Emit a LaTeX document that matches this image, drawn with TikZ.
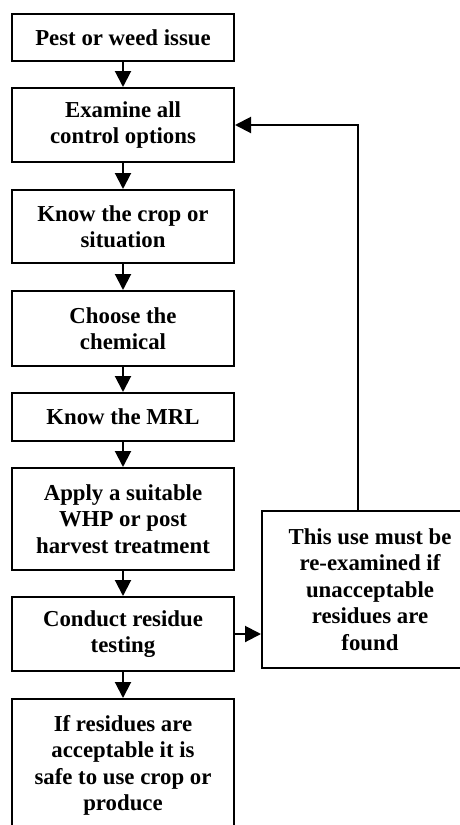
\documentclass[tikz,border=0pt]{standalone}
\usepackage{fontspec}
\setmainfont{Liberation Serif}
\usetikzlibrary{arrows.meta}

\tikzset{
  stage/.style={draw, line width=2pt, align=center, minimum width=222pt, inner sep=0pt,
    font=\fontsize{22.8}{26.5}\selectfont\bfseries},
  flow/.style={line width=2pt, -{Triangle[length=16pt,width=16pt]}}
}

\begin{document}
\begin{tikzpicture}[x=1pt, y=-1pt]
			\useasboundingbox (0,0) rectangle (459,825);

			\node[stage, minimum height=47pt] (pest) at (123,37.5) {Pest or weed issue};
			\node[stage, minimum height=74pt] (examine) at (123,125) {Examine all\\control options};
			\node[stage, minimum height=73pt] (crop) at (123,226.5) {Know the crop or\\situation};
			\node[stage, minimum height=75pt] (chem) at (123,328.5) {Choose the\\chemical};
			\node[stage, minimum height=48pt] (mrl) at (123,417) {Know the MRL};
			\node[stage, minimum height=102pt] (whp) at (123,519) {Apply a suitable\\WHP or post\\harvest treatment};
			\node[stage, minimum height=74pt] (testing) at (123,634) {Conduct residue\\testing};
			\node[stage, minimum height=133pt] (safe) at (123,765.5) {If residues are\\acceptable it is\\safe to use crop or\\produce};

			\node[stage, minimum width=216pt, minimum height=157pt] (reexam) at (370,589.5)
				{This use must be\\re-examined if\\unacceptable\\residues are\\found};

			\draw[flow] (pest) -- (examine);
			\draw[flow] (examine) -- (crop);
			\draw[flow] (crop) -- (chem);
			\draw[flow] (chem) -- (mrl);
			\draw[flow] (mrl) -- (whp);
			\draw[flow] (whp) -- (testing);
			\draw[flow] (testing) -- (safe);

			\draw[flow] (testing.east) -- (testing.east -| reexam.west);
			\draw[flow] ([xshift=-12pt]reexam.north) |- (examine.east);

		    \end{tikzpicture}
\end{document}
